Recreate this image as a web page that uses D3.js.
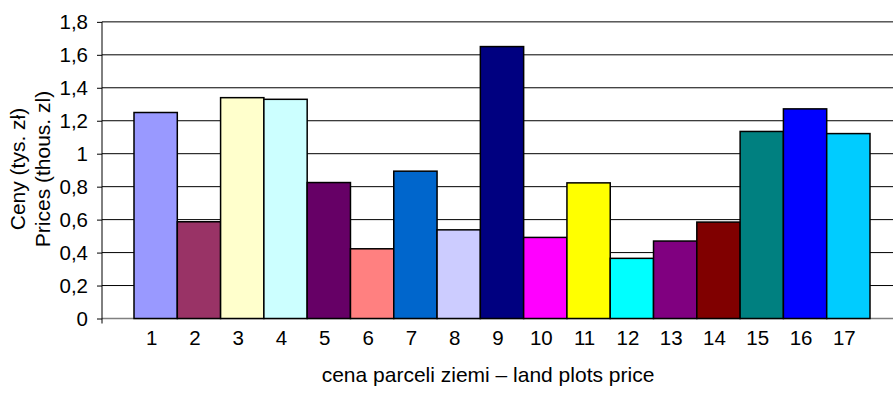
<!DOCTYPE html>
<html>
<head>
<meta charset="utf-8">
<script src="https://cdn.jsdelivr.net/npm/d3@7"></script>
<style>
  html, body { margin: 0; padding: 0; background: #fff; }
  svg { display: block; }
  text { font-family: "Liberation Sans", Arial, sans-serif; fill: #000; }
</style>
</head>
<body>
<svg id="chart" width="893" height="394"></svg>
<script>
// Land plot prices (thousand zł) for plots 1–17
const plots = ["1","2","3","4","5","6","7","8","9","10","11","12","13","14","15","16","17"];
const prices = [1.25, 0.587, 1.34, 1.33, 0.825, 0.423, 0.894, 0.538, 1.65, 0.492, 0.823, 0.365, 0.47, 0.585, 1.135, 1.272, 1.122];
const barColors = ["#9999FF","#993366","#FFFFCC","#CCFFFF","#660066","#FF8080","#0066CC","#CCCCFF",
                   "#000080","#FF00FF","#FFFF00","#00FFFF","#800080","#800000","#008080","#0000FF","#00CCFF"];
const yTicks = [0, 0.2, 0.4, 0.6, 0.8, 1, 1.2, 1.4, 1.6, 1.8];
const yTitleLines = ["Ceny (tys. zł)", "Prices (thous. zl)"];
const xTitle = "cena parceli ziemi – land plots price";

const svg = d3.select("#chart");
const W = 893;
const plotLeft = 102, plotRight = W;

const x = d3.scaleBand().domain(plots).range([134, 870]).paddingInner(0).paddingOuter(0);
const y = d3.scaleLinear().domain([0, 1.8]).range([318.5, 21.86]);

// horizontal gridlines
svg.append("g")
  .selectAll("line")
  .data(yTicks.filter(d => d > 0))
  .join("line")
  .attr("x1", plotLeft).attr("x2", plotRight)
  .attr("y1", d => y(d)).attr("y2", d => y(d))
  .attr("stroke", "#000").attr("stroke-width", 1);

// baseline
svg.append("line")
  .attr("x1", plotLeft).attr("x2", plotRight)
  .attr("y1", y(0)).attr("y2", y(0))
  .attr("stroke", "#808080").attr("stroke-width", 1.5);

// bars
svg.append("g")
  .selectAll("rect")
  .data(prices)
  .join("rect")
  .attr("x", (d, i) => x(plots[i]))
  .attr("width", x.bandwidth())
  .attr("y", d => y(d))
  .attr("height", d => y(0) - y(d))
  .attr("fill", (d, i) => barColors[i])
  .attr("stroke", "#000")
  .attr("stroke-width", 1.5);

// y axis
const yAxis = d3.axisLeft(y)
  .tickValues(yTicks)
  .tickFormat(d => String(d).replace(".", ","))
  .tickSize(5)
  .tickSizeOuter(0)
  .tickPadding(9);
const gy = svg.append("g")
  .attr("transform", `translate(${plotLeft},0)`)
  .call(yAxis);
gy.select(".domain").remove();
gy.selectAll(".tick line").attr("stroke", "#000");
gy.selectAll(".tick text")
  .attr("font-size", 20.5)
  .attr("font-family", "Liberation Sans, Arial, sans-serif")
  .attr("fill", "#000");
gy.append("line")
  .attr("x1", 0).attr("x2", 0)
  .attr("y1", y(1.8)).attr("y2", y(0) + 5)
  .attr("stroke", "#000").attr("stroke-width", 1);

// x axis labels
const xAxis = d3.axisBottom(x).tickSize(0).tickPadding(12);
const gx = svg.append("g")
  .attr("transform", `translate(-4,${y(0)})`)
  .call(xAxis);
gx.select(".domain").remove();
gx.selectAll(".tick text")
  .attr("font-size", 20.5)
  .attr("font-family", "Liberation Sans, Arial, sans-serif")
  .attr("fill", "#000");

// axis titles
svg.append("text")
  .attr("x", 488).attr("y", 382)
  .attr("text-anchor", "middle")
  .attr("font-size", 21)
  .text(xTitle);

const yTitle = svg.append("text")
  .attr("transform", "translate(0,169) rotate(-90)")
  .attr("text-anchor", "middle")
  .attr("font-size", 21);
yTitleLines.forEach((t, i) => {
  yTitle.append("tspan")
    .attr("x", 0)
    .attr("y", 24.5 + i * 25)
    .text(t);
});
</script>
</body>
</html>
